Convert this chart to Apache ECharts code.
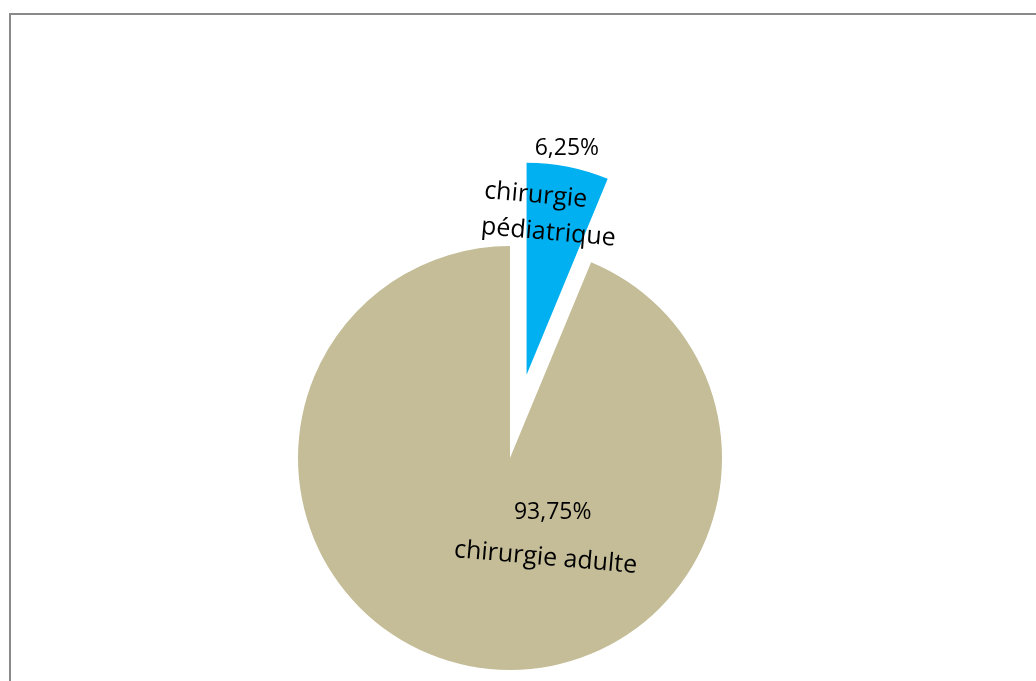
<!DOCTYPE html>
<html>
<head>
<meta charset="utf-8">
<script src="https://cdn.jsdelivr.net/npm/echarts@6/dist/echarts.min.js"></script>
<style>
  html, body { margin: 0; padding: 0; background: #fff; }
  #chart { width: 1036px; height: 681px; }
</style>
</head>
<body>
<div id="chart"></div>
<script>
  // données
  const categories = ['chirurgie\npédiatrique', 'chirurgie adulte']
  const values = [6.25, 93.75]
  const colors = ['#00B0F0', '#C4BD97']

  const chart = echarts.init(document.getElementById('chart'))

  const pieData = categories.map((name, i) => ({
    name: name,
    value: values[i],
    selected: i === 0,
    itemStyle: { color: colors[i] },
  }))

  // décalage des étiquettes par rapport à la position "inside"
  const pctOffset = [[19, -119], [64, -52]]
  const nameOffset = [[-70, -53], [56, -12]]

  const common = {
    type: 'pie',
    center: [510, 458],
    radius: 212,
    startAngle: 90,
    clockwise: true,
    selectedMode: 'single',
    selectedOffset: 85,
    silent: true,
    animation: false,
    emphasis: { disabled: true },
    labelLine: { show: false },
  }

  const option = {
    graphic: [
      {
        type: 'rect',
        shape: { x: 10, y: 14, width: 2000, height: 2000 },
        style: { fill: 'none', stroke: '#8a8a8a', lineWidth: 2 },
        silent: true,
      },
    ],
    series: [
      Object.assign({}, common, {
        data: pieData,
        label: {
          show: true,
          position: 'inside',
          color: '#000',
          fontFamily: 'Open Sans',
          fontSize: 23,
          formatter: p => p.percent.toFixed(2).replace('.', ',') + '%',
        },
        labelLayout: p => ({ dx: pctOffset[p.dataIndex][0], dy: pctOffset[p.dataIndex][1] }),
      }),
      Object.assign({}, common, {
        data: pieData.map(d => Object.assign({}, d, { itemStyle: { color: 'rgba(0,0,0,0)' } })),
        label: {
          show: true,
          position: 'inside',
          color: '#000',
          fontFamily: 'Open Sans',
          fontSize: 25,
          lineHeight: 36,
          formatter: p => p.name,
        },
        labelLayout: p => ({
          dx: nameOffset[p.dataIndex][0],
          dy: nameOffset[p.dataIndex][1],
          align: p.dataIndex === 0 ? 'left' : 'center',
          rotate: -5,
        }),
      }),
    ],
  }

  chart.setOption(option)
</script>
</body>
</html>
